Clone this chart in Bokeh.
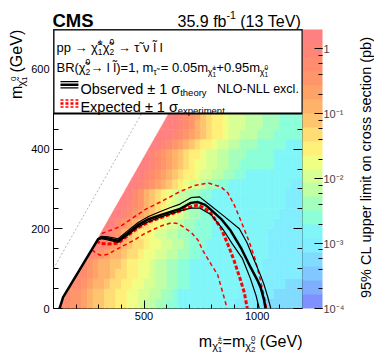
import math
from bokeh.plotting import figure
from bokeh.layouts import column, row
from bokeh.models import (ColumnDataSource, LogColorMapper, ColorBar, LogTicker, FixedTicker,
                          LinearAxis, Label, BoxAnnotation, Arrow, CustomJSTickFormatter, Range1d)
from bokeh.transform import transform
from bokeh.embed import file_html
from bokeh.resources import INLINE

# ---------------------------------------------------------------- data
X_RANGE = (100, 1200)          # m(chi1+-) = m(chi2^0) [GeV]
Y_RANGE = (0, 700)             # m(chi1^0) [GeV]
x_major_ticks = [500, 1000]
x_minor_ticks = [200, 300, 400, 600, 700, 800, 900, 1100]
y_major_ticks = [0, 200, 400, 600]
y_minor_ticks = [50, 100, 150, 250, 300, 350, 450, 500, 550, 650]

# 95% CL upper limit map: cells of 25 GeV x 25 GeV, one string per m(chi1^0) row
# (row r covers m1 = 25r .. 25r+25), one character per m2 column starting at 100 GeV.
# character = colour band of the limit (0 = lowest .. j = highest), '.' = no point
CELL_M2 = 25
CELL_M1 = 25
SCAN_MIN_DM = 120              # smallest m2 - m1 covered by the scan [GeV]
LIMIT_LOG_LOW = -4.0
LIMIT_LOG_HIGH = 0.3
N_BANDS = 20
BAND_CODES = "0123456789abcdefghij"
limit_rows = [
    "." + "hhggfeddccbbaa9887766" + "5" * 10 + "4" * 5 + "3" * 7,
    ".." + "hggfeddccbbaa9988776" + "5" * 11 + "4" * 6 + "3" * 5,
    "..." + "hhgfeedccbbaa99887766" + "5" * 10 + "4" * 7 + "3" * 3,
    "...." + "hhgfeedccbbaa9887766" + "5" * 13 + "4" * 7,
    "....." + "hgfeeddcbbaa9887766" + "5" * 13 + "4" * 7,
    "......" + "ihgfeedccbaa99887766" + "5" * 12 + "4" * 6,
    "......." + "jihgfedccbaa99887666" + "5" * 11 + "4" * 6,
    "........" + "jjhgedcbba9988776666" + "5" * 10 + "4" * 6,
    "." * 9 + "jjhgfedcbaa99877666" + "5" * 11 + "4" * 5,
    "." * 10 + "jjihgfedcbaa987766" + "5" * 12 + "4" * 4,
    "." * 11 + "jjihgedcba988766" + "5" * 14 + "4" * 3,
    "." * 12 + "jjhgedcba9887766" + "5" * 13 + "4" * 3,
    "." * 13 + "jjihgfedcba9987766" + "5" * 11 + "4" * 2,
    "." * 14 + "jjihgfedcbba99887766" + "5" * 10,
    "." * 15 + "jjihgfedcbaa998877" + "6" * 6 + "5" * 5,
    "." * 16 + "jihgfedcbba9988777" + "6" * 5 + "5" * 5,
    "." * 17 + "jjihgfedcbba9988777" + "6" * 5 + "5" * 3,
    "." * 18 + "jjjihgfedcbba99888777" + "6" * 5,
    "." * 19 + "jjjihgedcbba999888777" + "6" * 4,
    "." * 20 + "jjihgfdcbba999888777" + "6" * 4,
]

# exclusion contours (m2, m1) in GeV
obs_m2 = [127, 142, 297, 311, 340, 386, 430, 474, 520, 575, 620, 659, 707, 738, 770, 795, 840, 883, 930, 971, 1000, 1015, 1030, 1037]
obs_m1 = [0, 28, 174, 178, 176, 170, 190, 210, 224, 235, 243, 250, 265, 267, 260, 248, 225, 195, 150, 103, 72, 53, 22, 0]
theo_up_m2 = [297, 311, 340, 386, 430, 474, 520, 575, 620, 659, 707, 745, 795, 850, 921, 955, 984, 1010, 1030, 1045, 1060]
theo_up_m1 = [174, 181, 180, 175, 196, 216, 231, 244, 254, 262, 278, 280, 258, 233, 200, 165, 125, 90, 60, 32, 0]
theo_dn_m2 = [297, 311, 340, 386, 430, 474, 520, 575, 620, 659, 707, 745, 795, 847, 890, 935, 970, 995, 1009]
theo_dn_m1 = [174, 175, 172, 166, 185, 205, 218, 230, 238, 245, 252, 252, 236, 200, 162, 125, 75, 32, 0]
exp_m2 = [290, 307, 340, 386, 430, 474, 520, 575, 620, 660, 700, 740, 790, 840, 876, 898, 927, 943, 956]
exp_m1 = [170, 163, 162, 164, 184, 203, 217, 228, 237, 245, 254, 260, 243, 202, 153, 120, 70, 40, 0]
exp_m1s_m2 = [313, 393, 457, 510, 575, 654, 720, 782, 840, 870, 900, 935, 965, 990, 1009, 1025, 1039, 1042]
exp_m1s_m1 = [188, 205, 230, 250, 268, 292, 308, 315, 305, 290, 258, 210, 167, 125, 83, 45, 8, 0]
exp_p1s_m2 = [270, 290, 311, 340, 384, 458, 502, 575, 620, 650, 678, 710, 738, 760, 797, 825, 840, 855, 867]
exp_p1s_m1 = [147, 138, 133, 136, 150, 172, 188, 207, 215, 213, 203, 190, 172, 145, 110, 85, 55, 25, 0]
diag_m2 = [100, 700]
diag_m1 = [100, 700]

# ---------------------------------------------------------------- style / layout
FONT = "Liberation Sans"
PALETTE = ["#8090ff", "#80aeff", "#80c8ff", "#80dcff", "#80eeff", "#80f6f8", "#8cffd8",
           "#a4ffbc", "#c0ffa4", "#d8ff94", "#f0ff84", "#fff07a", "#ffdc74", "#ffc46e",
           "#ffb26a", "#ffa268", "#ff966a", "#ff8c6e", "#ff8676", "#ff8080"]
PAGE_W, PAGE_H = 374, 359
FL, FR, FT, FB = 52, 302, 29, 308      # frame edges in page pixels
LEFT_W, RIGHT_W, BOTTOM_H = 28, 22, 35
MAIN_W = PAGE_W - LEFT_W - RIGHT_W
MAIN_H = PAGE_H - FT - BOTTOM_H


def px2x(px):
    return X_RANGE[0] + (px - FL) * (X_RANGE[1] - X_RANGE[0]) / (FR - FL)


def py2y(py):
    return Y_RANGE[0] + (FB - py) * (Y_RANGE[1] - Y_RANGE[0]) / (FB - FT)


CW = {' ': 278, '!': 278, '%': 889, '(': 333, ')': 333, '+': 584, ',': 278, '-': 333,
      '.': 278, '/': 278, '=': 584, '±': 584, '→': 1000, 'χ': 520, 'σ': 600, 'τ': 440,
      'ν': 500, '\u0303': 0,
      'A': 667, 'B': 667, 'C': 722, 'D': 722, 'E': 667, 'F': 611, 'G': 778, 'H': 722,
      'I': 278, 'L': 556, 'M': 833, 'N': 722, 'O': 778, 'P': 667, 'R': 722, 'S': 667,
      'T': 611, 'V': 667,
      'a': 556, 'b': 556, 'c': 500, 'd': 556, 'e': 556, 'f': 278, 'g': 556, 'h': 556,
      'i': 222, 'l': 222, 'm': 833, 'n': 556, 'o': 556, 'p': 556, 'r': 333, 's': 500,
      't': 278, 'u': 556, 'v': 500, 'x': 500, 'y': 500}
for d in "0123456789":
    CW[d] = 556


def adv(s, size):
    return sum(CW.get(c, 556) for c in s) * size / 1000.0


def seg_width(s):
    if s[0] == 't':
        return adv(s[1], s[2])
    return max(adv(s[1], s[3]), adv(s[2], s[3]))


def rich(p, x, y, segs, mapx, mapy, angle=0.0, align="left", color="black"):
    """Write a run of text pieces (with sub/superscripts) starting at page pixel (x, y)."""
    total = sum(seg_width(s) for s in segs)
    pos = {"left": 0.0, "right": -total, "center": -total / 2}[align]
    ca, sa = math.cos(angle), math.sin(angle)

    def place(text, along, dy, size, bold=False):
        sx = x + along * ca - dy * sa
        sy = y - along * sa - dy * ca
        p.add_layout(Label(x=mapx(sx), y=mapy(sy), x_units="data", y_units="data",
                           text=text.replace(" ", "\u00a0"), text_font=FONT,
                           text_font_size=f"{size}px",
                           text_font_style="bold" if bold else "normal",
                           text_color=color, text_baseline="alphabetic",
                           text_align="left", angle=angle))

    for s in segs:
        if s[0] == 't':
            place(s[1], pos, s[3], s[2], len(s) > 4 and s[4])
        else:
            place(s[1], pos, s[4], s[3])
            place(s[2], pos, s[5], s[3])
        pos += seg_width(s)


def strip(w, h, ox, oy):
    """A plain text strip whose frame fills it; data units are page pixels."""
    s = figure(width=w, height=h, x_range=Range1d(ox, ox + w), y_range=Range1d(oy + h, oy),
               output_backend="svg", toolbar_location=None, title=None,
               x_axis_location=None, y_axis_location=None, min_border=0)
    s.grid.visible = False
    s.outline_line_color = None
    s.background_fill_color = "white"
    s.border_fill_color = "white"
    return s


def ident(v):
    return v


def clip_to_scan(poly):
    """Keep the part of a cell polygon with m2 - m1 >= SCAN_MIN_DM."""
    out = []
    for i in range(len(poly)):
        cur, prev = poly[i], poly[i - 1]
        fc = cur[0] - cur[1] - SCAN_MIN_DM
        fp = prev[0] - prev[1] - SCAN_MIN_DM
        if fc >= 0:
            if fp < 0:
                t = fp / (fp - fc)
                out.append((prev[0] + t * (cur[0] - prev[0]), prev[1] + t * (cur[1] - prev[1])))
            out.append(cur)
        elif fp >= 0:
            t = fp / (fp - fc)
            out.append((prev[0] + t * (cur[0] - prev[0]), prev[1] + t * (cur[1] - prev[1])))
    return out


# ---------------------------------------------------------------- main figure
p = figure(width=MAIN_W, height=MAIN_H, x_range=Range1d(*X_RANGE), y_range=Range1d(*Y_RANGE),
           output_backend="svg", toolbar_location=None, title=None,
           min_border_left=FL - LEFT_W, min_border_right=LEFT_W + MAIN_W - FR,
           min_border_top=0, min_border_bottom=FT + MAIN_H - FB)
p.grid.visible = False
p.outline_line_color = "black"
p.outline_line_width = 1
p.background_fill_color = "white"
p.border_fill_color = "white"

step = (LIMIT_LOG_HIGH - LIMIT_LOG_LOW) / N_BANDS
cells = dict(xs=[], ys=[], limit=[])
for r, row_codes in enumerate(limit_rows):
    first = next(j for j, ch in enumerate(row_codes) if ch != '.')
    for j, ch in enumerate(row_codes):
        if ch == '.':
            continue
        b = BAND_CODES.index(ch)
        x0 = X_RANGE[0] + (j - 1 if j == first else j) * CELL_M2
        x1 = X_RANGE[0] + (j + 1) * CELL_M2
        y0, y1 = r * CELL_M1, (r + 1) * CELL_M1
        poly = clip_to_scan([(x0, y0), (x1, y0), (x1, y1), (x0, y1)])
        if len(poly) < 3:
            continue
        cells["xs"].append([v[0] for v in poly])
        cells["ys"].append([v[1] for v in poly])
        cells["limit"].append(10 ** (LIMIT_LOG_LOW + (b + 0.5) * step))

mapper = LogColorMapper(palette=PALETTE, low=10 ** LIMIT_LOG_LOW, high=10 ** LIMIT_LOG_HIGH)
p.patches(xs="xs", ys="ys", source=ColumnDataSource(cells),
          fill_color=transform("limit", mapper), line_color=transform("limit", mapper),
          line_width=0.6)

p.line(diag_m2, diag_m1, line_color="#b4b4b4", line_width=1, line_dash="2 2")
p.line(exp_p1s_m2, exp_p1s_m1, line_color="#ff0000", line_width=1.5, line_dash="4 3")
p.line(exp_m1s_m2, exp_m1s_m1, line_color="#ff0000", line_width=1.5, line_dash="4 3")
p.line(exp_m2, exp_m1, line_color="#ff0000", line_width=3, line_dash="4 2")
p.line(theo_up_m2, theo_up_m1, line_color="black", line_width=1.2)
p.line(theo_dn_m2, theo_dn_m1, line_color="black", line_width=1.2)
p.line(obs_m2, obs_m1, line_color="black", line_width=2.5)

xa, ya = p.xaxis[0], p.yaxis[0]
xa.ticker = FixedTicker(ticks=x_major_ticks, minor_ticks=x_minor_ticks)
ya.ticker = FixedTicker(ticks=y_major_ticks, minor_ticks=y_minor_ticks)
for ax, mj, mn, so in ((xa, 8, 4, 3), (ya, 9, 5, 4)):
    ax.axis_line_color = None
    ax.major_tick_in = mj
    ax.major_tick_out = 0
    ax.minor_tick_in = mn
    ax.minor_tick_out = 0
    ax.major_tick_line_color = "black"
    ax.minor_tick_line_color = "black"
    ax.major_label_text_font = FONT
    ax.major_label_text_font_size = "11px"
    ax.major_label_text_color = "black"
    ax.major_label_standoff = so

# mirrored ticks on the right edge of the frame (no labels)
ra = LinearAxis(ticker=FixedTicker(ticks=y_major_ticks, minor_ticks=y_minor_ticks),
                axis_line_color=None, major_tick_in=9, major_tick_out=0, minor_tick_in=5,
                minor_tick_out=0, major_label_text_font_size="0px",
                major_label_text_color=None, major_label_standoff=5)
p.add_layout(ra, "right")

fmt = CustomJSTickFormatter(code=r"""
const e = Math.round(Math.log10(tick));
if (e === 0) { return "1"; }
const s = {"-": "\u207b", "0": "\u2070", "1": "\u00b9", "2": "\u00b2", "3": "\u00b3", "4": "\u2074"};
return "10" + String(e).split("").map((c) => s[c]).join("");
""")
cb = ColorBar(color_mapper=mapper, ticker=LogTicker(), formatter=fmt, width=20,
              padding=0, margin=0, location=(0, 0), major_tick_in=8, major_tick_out=0,
              minor_tick_in=4, minor_tick_out=0, major_tick_line_color="black",
              minor_tick_line_color="black", bar_line_color=None, label_standoff=1,
              major_label_text_font=FONT, major_label_text_font_size="11px",
              background_fill_alpha=0, border_line_color=None)
p.add_layout(cb, "right")

# legend box and texts
p.add_layout(BoxAnnotation(left=px2x(FL), right=px2x(FR), top=py2y(FT), bottom=py2y(113),
                           fill_color="white", fill_alpha=1, line_color="black",
                           line_alpha=1, line_width=2, level="annotation"))

CHI = "χ\u0303"
rich(p, 55, 47, [('t', "pp → ", 13, 0), ('t', CHI, 13, 0), ('s', "±", "1", 8.5, 6, -4),
                 ('t', CHI, 13, 0), ('s', "0", "2", 8.5, 6, -4),
                 ('t', " → τ\u0303 ν l\u0303 l", 13, 0)], px2x, py2y)
rich(p, 55, 67, [('t', "BR(", 13, 0), ('t', CHI, 13, 0), ('s', "0", "2", 8.5, 6, -4),
                 ('t', "→ l l\u0303)=1, m", 13, 0), ('t', "τ\u0303", 9, -4),
                 ('t', " = 0.05m", 13, 0), ('t', CHI, 9, -4), ('s', "±", "1", 6.5, 0.5, -7),
                 ('t', "+0.95m", 13, 0), ('t', CHI, 9, -4), ('s', "0", "1", 6.5, 0.5, -7)],
     px2x, py2y)
rich(p, 79, 88, [('t', "Observed ± 1 σ", 14.5, 0), ('t', "theory", 9.5, -4)], px2x, py2y)
rich(p, 79, 106, [('t', "Expected ± 1 σ", 14.5, 0), ('t', "experiment", 9.5, -4)], px2x, py2y)
rich(p, 298, 88, [('t', "NLO-NLL excl.", 12.5, 0)], px2x, py2y, align="right")

for yy, lw in ((81.2, 1.2), (84.3, 2.6), (87.4, 1.2)):
    p.add_layout(Arrow(end=None, x_start=px2x(59), x_end=px2x(77), y_start=py2y(yy),
                       y_end=py2y(yy), line_color="black", line_width=lw))
for yy, lw in ((99.5, 1.3), (103.0, 2.6), (106.5, 1.3)):
    p.add_layout(Arrow(end=None, x_start=px2x(59), x_end=px2x(77), y_start=py2y(yy),
                       y_end=py2y(yy), line_color="#ff0000", line_width=lw, line_dash="3 2"))

# ---------------------------------------------------------------- text strips
top = strip(PAGE_W, FT, 0, 0)
rich(top, 52, 19.5, [('t', "CMS", 18.5, 0, True)], ident, ident)
rich(top, 302, 21, [('t', "35.9 fb", 16, 0), ('t', "-1", 10.5, 6.5),
                    ('t', " (13 TeV)", 16, 0)], ident, ident, align="right")

left = strip(LEFT_W, MAIN_H, 0, FT)
rich(left, 16, 32, [('t', "m", 16, 0), ('t', CHI, 11, -4), ('s', "0", "1", 8, 3, -8),
                    ('t', " (GeV)", 16, 0)], ident, ident, angle=math.pi / 2, align="right")

right = strip(RIGHT_W, MAIN_H, PAGE_W - RIGHT_W, FT)
rich(right, 365, 313, [('t', "95% CL upper limit on cross section (pb)", 14.5, 0)],
     ident, ident, angle=math.pi / 2)

bottom = strip(PAGE_W, BOTTOM_H, 0, FT + MAIN_H)
rich(bottom, 302, 341, [('t', "m", 16, 0), ('t', CHI, 11, -4), ('s', "±", "1", 8, 3, -8),
                        ('t', "=m", 16, 0), ('t', CHI, 11, -4), ('s', "0", "2", 8, 3, -8),
                        ('t', " (GeV)", 16, 0)], ident, ident, align="right")

layout = column(top, row(left, p, right, spacing=0), bottom, spacing=0)
open("out.html", "w", encoding="utf-8").write(file_html(layout, INLINE))
